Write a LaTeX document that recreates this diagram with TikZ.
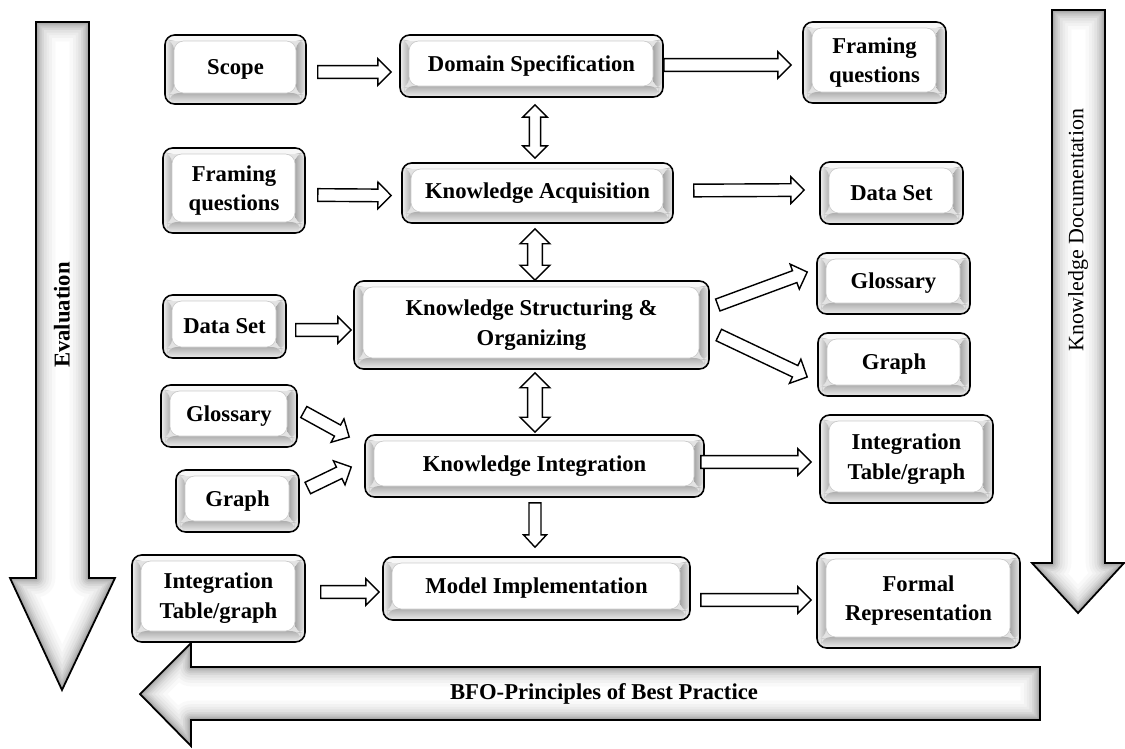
\documentclass[tikz,border=0pt]{standalone}
\usepackage{fontspec}
\setmainfont{Liberation Serif}
\usetikzlibrary{calc}

% block-arrow dimensions: half shaft width, half head width, head length
\newcommand\aw{3.6pt}
\newcommand\ah{7.6pt}
\newcommand\ak{7.6pt}

\tikzset{
  aw/.code={\def\aw{#1}}, ah/.code={\def\ah{#1}}, ak/.code={\def\ak{#1}},
  boxfont/.style={font=\fontsize{12.9}{17}\selectfont\bfseries},
  bx/.style={rectangle, rounded corners=5.5pt, draw=black, line width=0.9pt,
    fill=gray!22, inner sep=0pt, align=center, boxfont,
    path picture={
      \coordinate (ppnw) at (path picture bounding box.north west);
      \coordinate (ppse) at (path picture bounding box.south east);
      \fill[gray!6] (ppnw) rectangle ($(ppnw-|ppse)+(0,6)$);
      \shade[left color=gray!12, right color=gray!62]
        ($(ppnw)+(0,5)$) rectangle ($(ppnw|-ppse)+(9,-9)$);
      \shade[left color=gray!70, right color=gray!18]
        ($(ppnw-|ppse)+(-10,5)$) rectangle ($(ppse)+(0,-9)$);
      \shade[top color=gray!62, bottom color=gray!14]
        ($(ppnw|-ppse)+(4,-11)$) rectangle ($(ppse)+(-4,0)$);
      \fill[white] ($(ppnw)+(9,6)$) rectangle ($(ppse)+(-10,-11)$);
      \draw[gray!40, line width=0.4pt] ($(ppnw)+(9,6)$) rectangle ($(ppse)+(-10,-11)$);
    }},
  % hollow block arrow with one head
  blk/.style={draw=black, fill=white, line width=0.8pt, line join=miter, to path={
    ($(\tikztostart)!\aw!90:(\tikztotarget)$)
    -- ($($(\tikztotarget)!\ak!(\tikztostart)$)!\aw!90:(\tikztotarget)$)
    -- ($($(\tikztotarget)!\ak!(\tikztostart)$)!\ah!90:(\tikztotarget)$)
    -- (\tikztotarget)
    -- ($($(\tikztotarget)!\ak!(\tikztostart)$)!\ah!-90:(\tikztotarget)$)
    -- ($($(\tikztotarget)!\ak!(\tikztostart)$)!\aw!-90:(\tikztotarget)$)
    -- ($(\tikztostart)!\aw!-90:(\tikztotarget)$)
    -- cycle}},
  % hollow block arrow with two heads
  dblk/.style={draw=black, fill=white, line width=0.8pt, line join=miter, to path={
    (\tikztostart)
    -- ($($(\tikztostart)!\ak!(\tikztotarget)$)!\ah!90:(\tikztotarget)$)
    -- ($($(\tikztostart)!\ak!(\tikztotarget)$)!\aw!90:(\tikztotarget)$)
    -- ($($(\tikztotarget)!\ak!(\tikztostart)$)!\aw!90:(\tikztotarget)$)
    -- ($($(\tikztotarget)!\ak!(\tikztostart)$)!\ah!90:(\tikztotarget)$)
    -- (\tikztotarget)
    -- ($($(\tikztotarget)!\ak!(\tikztostart)$)!\ah!-90:(\tikztotarget)$)
    -- ($($(\tikztotarget)!\ak!(\tikztostart)$)!\aw!-90:(\tikztotarget)$)
    -- ($($(\tikztostart)!\ak!(\tikztotarget)$)!\aw!-90:(\tikztotarget)$)
    -- ($($(\tikztostart)!\ak!(\tikztotarget)$)!\ah!-90:(\tikztotarget)$)
    -- cycle}},
  bigtext/.style={font=\fontsize{12.9}{15}\selectfont\bfseries},
}

% bevelled box given by its corners in pixels
\newcommand\bbox[6]{%
  \node[bx, minimum width={(#4-#2)*0.02cm}, minimum height={(#5-#3)*0.02cm}]
    (#1) at ({(#2+#4)/2},{(#3+#5)/2}) {#6};}

% large hollow arrow with a soft inner shadow
\newcommand\bigarrow[1]{%
  \fill[white] #1;
  \begin{scope}
    \clip #1;
    \foreach \lw/\shadeval in {22/5,18/10,15/16,12/23,9/31,7/40,5/50,3/62,1.5/75}
      \draw[gray!\shadeval, line width=\lw pt, line join=round] #1;
  \end{scope}
  \draw[black, line width=1pt, line join=miter] #1;}

\begin{document}
\begin{tikzpicture}[x=0.02cm, y=-0.02cm]
\useasboundingbox (0,0) rectangle (1125,748);
\fill[white] (0,0) rectangle (1125,748);

% side and bottom process arrows
\bigarrow{(36,22) -- (89,22) -- (89,578) -- (115,578) -- (62,690) -- (10,578) -- (36,578) -- cycle}
\bigarrow{(1052,10) -- (1105,10) -- (1105,563) -- (1124,563) -- (1078,613) -- (1032,563) -- (1052,563) -- cycle}
\bigarrow{(1040,667) -- (191,667) -- (191,643) -- (140,694) -- (191,746) -- (191,720) -- (1040,720) -- cycle}
\node[bigtext, rotate=90] (evl) at (62,315) {Evaluation};
\node[font=\fontsize{12.5}{15}\selectfont, rotate=90] (kdoc) at (1078,230) {Knowledge Documentation};
\node[bigtext] (bfo) at (604,694) {BFO-Principles of Best Practice};

% boxes
\bbox{scope}{165}{35}{306}{104}{Scope}
\bbox{dom}{400}{35}{663}{97}{Domain Specification}
\bbox{fqR}{803}{22}{946}{103}{Framing\\questions}
\bbox{fqL}{163}{148}{305}{233}{Framing\\questions}
\bbox{ka}{402}{163}{673}{223}{Knowledge Acquisition}
\bbox{dsR}{820}{162}{963}{224}{Data Set}
\bbox{kso}{354}{281}{709}{369}{Knowledge Structuring \&\\Organizing}
\bbox{dsL}{163}{295}{286}{358}{Data Set}
\bbox{glR}{817}{253}{970}{314}{Glossary}
\bbox{grR}{818}{333}{970}{396}{Graph}
\bbox{glL}{161}{385}{297}{447}{Glossary}
\bbox{grL}{176}{470}{299}{532}{Graph}
\bbox{ki}{365}{435}{704}{497}{Knowledge Integration}
\bbox{itgR}{820}{415}{993}{503}{Integration\\Table/graph}
\bbox{itgL}{132}{555}{305}{642}{Integration\\Table/graph}
\bbox{mi}{383}{557}{690}{620}{Model Implementation}
\bbox{fr}{817}{553}{1020}{648}{Formal\\Representation}

% connectors
\draw[blk] ($(scope.east)+(11,2.5)$) to ($(dom.west)+(-8,6)$);
\draw[blk] ($(dom.east)+(0,-1)$) to ($(fqR.west)+(-11,2.5)$);
\draw[dblk, aw=3.2pt, ah=7pt, ak=7pt] ($(dom.south)+(3.5,7)$) to ($(ka.north)+(-2.5,-4)$);
\draw[blk] ($(fqL.east)+(12,4.5)$) to ($(ka.west)+(-10,2.5)$);
\draw[blk] ($(ka.east)+(20,-2.5)$) to ($(dsR.west)+(-15,-3)$);
\draw[dblk, aw=4.2pt, ah=8.5pt, ak=8.5pt] ($(ka.south)+(-2.5,5)$) to ($(kso.north)+(3.5,0)$);
\draw[blk] ($(dsL.east)+(9,3.5)$) to ($(kso.west)+(-2,5)$);
\draw[blk] ($(kso.east)+(8,-20)$) to ($(glR.west)+(-9,-11.5)$);
\draw[blk] ($(kso.east)+(9,10)$) to ($(grR.west)+(-10,12.5)$);
\draw[dblk, aw=4.2pt, ah=8.5pt, ak=8.5pt] ($(kso.south)+(3.5,3)$) to ($(ki.north)+(0.5,-2)$);
\draw[blk] ($(glL.east)+(6,-4)$) to ($(ki.west)+(-15,-29)$);
\draw[blk] ($(grL.east)+(8,-13)$) to ($(ki.west)+(-13,1)$);
\draw[blk] ($(ki.east)+(-4,-4)$) to ($(itgR.west)+(-8,3)$);
\draw[blk, aw=3.4pt, ah=6.5pt, ak=7pt] ($(ki.south)+(0.5,5)$) to ($(mi.north)+(-1.5,-9)$);
\draw[blk] ($(itgL.east)+(15,-6.5)$) to ($(mi.west)+(-3,3.5)$);
\draw[blk] ($(mi.east)+(10,11.5)$) to ($(fr.west)+(-5,-0.5)$);
\end{tikzpicture}
\end{document}
